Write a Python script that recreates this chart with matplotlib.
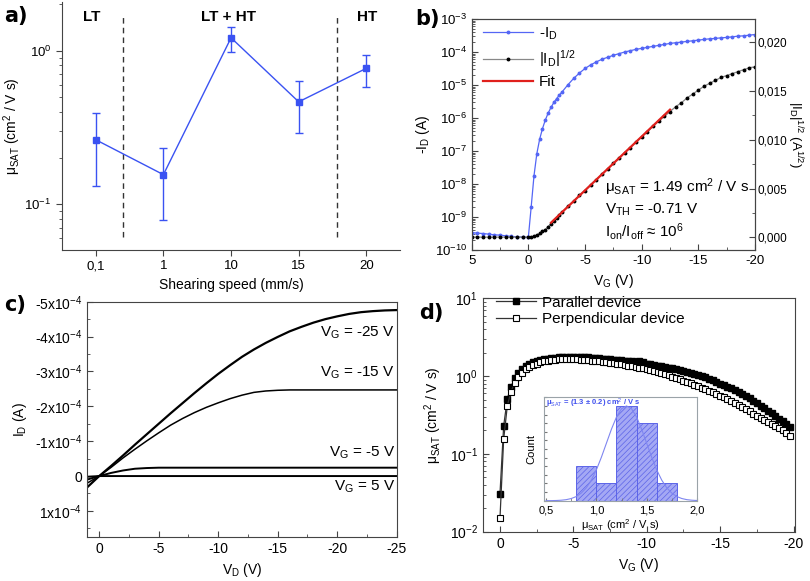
import numpy as np
import matplotlib
matplotlib.use('Agg')
import matplotlib.pyplot as plt
from matplotlib.ticker import MultipleLocator, FixedLocator, FuncFormatter, NullFormatter

plt.rcParams['font.family'] = ['Liberation Sans', 'DejaVu Sans']
plt.rcParams['mathtext.fontset'] = 'custom'
plt.rcParams['mathtext.rm'] = 'Liberation Sans'
plt.rcParams['mathtext.it'] = 'Liberation Sans:italic'
plt.rcParams['mathtext.bf'] = 'Liberation Sans:bold'
plt.rcParams['axes.unicode_minus'] = False
plt.rcParams['hatch.linewidth'] = 0.5

# ---- data a) mobility vs shearing speed
speed_labels = ['0,1', '1', '10', '15', '20']
mu_a = [0.263, 0.156, 1.21, 0.464, 0.766]
mu_a_hi = [0.39, 0.233, 1.42, 0.63, 0.94]
mu_a_lo = [0.132, 0.079, 0.985, 0.293, 0.58]
regions = ['LT', 'LT + HT', 'HT']
region_x = [-0.06, 1.96, 4.01]
boundary_x = [0.40, 3.56]

# ---- data b) transfer curve
vg_b = np.concatenate([np.arange(5, 0, -0.5), np.arange(0, -3, -0.25), np.arange(-3, -20.01, -0.5)])
id_log = [-9.47, -9.49, -9.50, -9.52, -9.54, -9.55, -9.57, -9.59, -9.60, -9.61,
          -9.62, -8.70, -7.75, -7.08, -6.64, -6.32, -6.06, -5.85, -5.68, -5.53, -5.41, -5.30,
          -5.20, -4.99, -4.80, -4.64, -4.50, -4.39, -4.30, -4.22, -4.16, -4.10, -4.05, -4.00,
          -3.96, -3.92, -3.89, -3.86, -3.83, -3.80, -3.77, -3.74, -3.72, -3.70, -3.68, -3.66,
          -3.64, -3.62, -3.60, -3.59, -3.57, -3.56, -3.54, -3.52, -3.51, -3.49, -3.47]
sqrt_id = [0.00002] * 10 + [0.00002, 0.00005, 0.00012, 0.00025, 0.0004, 0.0006, 0.0008, 0.0011,
                            0.0014, 0.0017, 0.0020, 0.0023,
                            0.0026, 0.0032, 0.0037, 0.0043, 0.0048, 0.0054, 0.0059, 0.0065, 0.0070,
                            0.0076, 0.0081, 0.0087, 0.0092, 0.0098, 0.0103, 0.0108, 0.0114, 0.0119,
                            0.0124, 0.0129, 0.0134, 0.0138, 0.0143, 0.0147, 0.0151, 0.0155, 0.0158,
                            0.0161, 0.0164, 0.0166, 0.0168, 0.0170, 0.0172, 0.0174, 0.0175]
fit_v = [-2.0, -12.5]
fit_y = [0.0015, 0.0131]

# ---- data c) output curves (units of 1e-4 A)
vd_c = np.arange(1, -25.5, -1)
id_m25 = [0.32, 0.0, -0.29, -0.59, -0.90, -1.20, -1.50, -1.80, -2.09, -2.38, -2.66, -2.93, -3.18,
          -3.42, -3.63, -3.82, -3.99, -4.15, -4.28, -4.40, -4.50, -4.58, -4.65, -4.70, -4.73, -4.75, -4.76]
id_m15 = [0.20, 0.0, -0.25, -0.52, -0.77, -1.01, -1.24, -1.46, -1.65, -1.82, -1.97, -2.10, -2.22,
          -2.32, -2.40, -2.44, -2.46, -2.47, -2.47, -2.47, -2.47, -2.47, -2.47, -2.47, -2.47, -2.47, -2.47]
id_m5 = [0.10, 0.0, -0.09, -0.16, -0.21, -0.23, -0.24, -0.24, -0.24, -0.24, -0.24, -0.24, -0.24,
         -0.24, -0.24, -0.24, -0.24, -0.24, -0.24, -0.24, -0.24, -0.24, -0.24, -0.24, -0.24, -0.24, -0.24]
id_p5 = [0.02, 0.0, 0.0, 0.0, 0.0, 0.0, 0.0, 0.0, 0.0, 0.0, 0.0, 0.0, 0.0,
         0.0, 0.0, 0.0, 0.0, 0.0, 0.0, 0.0, 0.0, 0.0, 0.0, 0.0, 0.0, 0.0, 0.0]
vg_labels = ['V$_\\mathrm{G}$ = -25 V', 'V$_\\mathrm{G}$ = -15 V', 'V$_\\mathrm{G}$ = -5 V', 'V$_\\mathrm{G}$ = 5 V']
vg_label_y = [-4.10, -2.96, -0.68, 0.32]

# ---- data d) mobility vs gate voltage (log10 values), 0.25 V steps from 0 V
mu_par_log = [-1.51, -0.64, -0.29, -0.135, -0.03, 0.04, 0.09, 0.13, 0.155, 0.175, 0.19, 0.205, 0.215,
              0.224, 0.231, 0.237, 0.241, 0.244, 0.246, 0.247, 0.247,
              0.246, 0.244, 0.242, 0.239, 0.236, 0.232, 0.228, 0.224, 0.220, 0.216, 0.212, 0.208,
              0.203, 0.198, 0.193, 0.188, 0.186, 0.196, 0.178, 0.160,
              0.152, 0.143, 0.134, 0.125, 0.117, 0.109, 0.100, 0.090, 0.080, 0.069, 0.057, 0.045,
              0.031, 0.016, 0.000, -0.016, -0.036, -0.056, -0.076, -0.096,
              -0.116, -0.136, -0.157, -0.180, -0.205, -0.230, -0.257, -0.285, -0.316, -0.348,
              -0.381, -0.414, -0.447, -0.480, -0.513, -0.546, -0.580, -0.614, -0.650]
mu_perp_log = [-1.82, -0.81, -0.38, -0.20, -0.085, -0.01, 0.045, 0.085, 0.115, 0.14, 0.16, 0.177, 0.19,
               0.20, 0.207, 0.213, 0.217, 0.22, 0.221, 0.221, 0.22,
               0.217, 0.213, 0.209, 0.205, 0.200, 0.195, 0.190, 0.185, 0.179, 0.173, 0.167, 0.160,
               0.152, 0.143, 0.134, 0.125, 0.116, 0.107, 0.098, 0.088,
               0.077, 0.065, 0.053, 0.040, 0.025, 0.009, -0.008, -0.025, -0.042, -0.059, -0.077, -0.095,
               -0.113, -0.132, -0.151, -0.170, -0.190, -0.210, -0.230, -0.250,
               -0.275, -0.300, -0.325, -0.350, -0.376, -0.402, -0.428, -0.455, -0.481, -0.507,
               -0.533, -0.560, -0.586, -0.612, -0.638, -0.665, -0.695, -0.728, -0.765]
vg_d = -0.25 * np.arange(len(mu_par_log))

# inset histogram
hist_edges = [0.8, 1.0, 1.2, 1.4, 1.6, 1.8]
hist_counts = [4, 2, 11, 9, 2]
gauss_x = [0.5, 0.55, 0.6, 0.65, 0.7, 0.75, 0.8, 0.85, 0.9, 0.95, 1.0, 1.05, 1.1, 1.15, 1.2, 1.25, 1.3,
           1.35, 1.4, 1.45, 1.5, 1.55, 1.6, 1.65, 1.7, 1.75, 1.8, 1.85, 1.9, 1.95, 2.0]
gauss_y = [0.004, 0.01, 0.024, 0.056, 0.12, 0.25, 0.48, 0.88, 1.49, 2.38, 3.57, 5.04, 6.67, 8.30, 9.71,
           10.66, 11.0, 10.66, 9.71, 8.30, 6.67, 5.04, 3.57, 2.38, 1.49, 0.88, 0.48, 0.25, 0.12, 0.056, 0.024]

spine_c = '#444444'
blue = '#3a52f2'


def style(ax, direction='in', size=10):
    for s in ax.spines.values():
        s.set_color(spine_c)
    ax.tick_params(which='both', direction=direction, colors=spine_c, labelcolor='black', labelsize=size)
    ax.tick_params(which='major', length=4)
    ax.tick_params(which='minor', length=2)


fig = plt.figure(figsize=(8.1, 5.81), dpi=100)

# ================= a)
axa = fig.add_axes([0.0765, 0.5697, 0.4175, 0.427])
xa = np.arange(len(mu_a))
err = [np.array(mu_a) - np.array(mu_a_lo), np.array(mu_a_hi) - np.array(mu_a)]
axa.errorbar(xa, mu_a, yerr=err, color=blue, marker='s', ms=5, lw=1.0, capsize=3, elinewidth=1.0)
axa.set_yscale('log')
axa.set_ylim(0.0505, 2.07)
axa.set_xlim(-0.5, 4.5)
axa.set_xticks(xa)
axa.set_xticklabels(speed_labels)
axa.spines['top'].set_visible(False)
axa.spines['right'].set_visible(False)
style(axa, 'out', 9.5)
axa.yaxis.set_minor_formatter(NullFormatter())
for bx in boundary_x:
    axa.vlines(bx, 0.061, 1.66, colors='#333333', linestyles=(0, (4, 3)), lw=1.0)
for rl, rx in zip(regions, region_x):
    axa.text(rx, 1.66, rl, ha='center', va='center', fontsize=11, fontweight='bold')
axa.set_ylabel('μ$_\\mathrm{SAT}$ (cm$^2$ / V s)', fontsize=10, labelpad=1)
axa.set_xlabel('Shearing speed (mm/s)', fontsize=10)

# ================= b)
axb = fig.add_axes([0.5823, 0.5697, 0.3498, 0.3976])
axb2 = axb.twinx()
l1, = axb.plot(vg_b, 10.0 ** np.array(id_log), color='#5466f5', marker='o', ms=1.8, lw=0.9, label='-I$_\\mathrm{D}$')
l2, = axb2.plot(vg_b, sqrt_id, color='#888888', marker='o', ms=1.8, mfc='black', mec='black', lw=0.9,
                label='|I$_\\mathrm{D}$|$^{1/2}$')
l3, = axb2.plot(fit_v, fit_y, color='#e0201c', lw=1.6, label='Fit')
axb.set_yscale('log')
axb.set_ylim(1e-10, 1e-3)
axb.set_xlim(5, -20)
axb2.set_ylim(-0.0013, 0.0224)
axb.set_xticks([5, 0, -5, -10, -15, -20])
axb.xaxis.set_minor_locator(MultipleLocator(2.5))
axb.yaxis.set_minor_formatter(NullFormatter())
axb2.yaxis.set_major_locator(MultipleLocator(0.005))
axb2.yaxis.set_minor_locator(MultipleLocator(0.0025))
axb2.yaxis.set_major_formatter(FuncFormatter(lambda v, p: f'{v:.3f}'.replace('.', ',')))
style(axb, size=9.5)
style(axb2, size=8.5)
axb2.tick_params(axis='y', pad=2)
axb.set_ylabel('-I$_\\mathrm{D}$ (A)', fontsize=10, labelpad=2)
axb.set_xlabel('V$_\\mathrm{G}$ (V)', fontsize=10)
axb2.set_ylabel('|I$_\\mathrm{D}$|$^{1/2}$ (A$^{1/2}$)', fontsize=9.5, rotation=270, labelpad=12)
axb.legend(handles=[l1, l2, l3], loc='upper left', bbox_to_anchor=(-0.01, 1.03), frameon=False,
           fontsize=11, handlelength=3.3, labelspacing=0.4, handletextpad=0.4)
axb.text(0.47, 0.27, 'μ$_\\mathrm{SAT}$ = 1.49 cm$^2$ / V s', transform=axb.transAxes, fontsize=11, va='center')
axb.text(0.47, 0.175, 'V$_\\mathrm{TH}$ = -0.71 V', transform=axb.transAxes, fontsize=11, va='center')
axb.text(0.47, 0.08, 'I$_\\mathrm{on}$/I$_\\mathrm{off}$ ≈ 10$^6$', transform=axb.transAxes, fontsize=11, va='center')

# ================= c)
axc = fig.add_axes([0.1078, 0.0762, 0.382, 0.4045])
for curve, lw in zip([id_m25, id_m15, id_m5, id_p5], [1.6, 1.1, 1.4, 1.4]):
    axc.plot(vd_c, np.array(curve) * 1e-4, color='black', lw=lw)
axc.set_xlim(1, -25)
axc.set_ylim(1.74e-4, -5.0e-4)
yt_c = [-5e-4, -4e-4, -3e-4, -2e-4, -1e-4, 0, 1e-4]
axc.yaxis.set_major_locator(FixedLocator(yt_c))
axc.set_yticklabels(['-5x10$^{-4}$', '-4x10$^{-4}$', '-3x10$^{-4}$', '-2x10$^{-4}$', '-1x10$^{-4}$', '0',
                     '1x10$^{-4}$'])
axc.yaxis.set_minor_locator(MultipleLocator(0.5e-4))
axc.set_xticks([0, -5, -10, -15, -20, -25])
axc.xaxis.set_minor_locator(MultipleLocator(2.5))
style(axc)
for lab, ly in zip(vg_labels, vg_label_y):
    axc.text(0.995, ly * 1e-4, lab, transform=axc.get_yaxis_transform(), ha='right', va='center', fontsize=11)
axc.set_ylabel('I$_\\mathrm{D}$ (A)', fontsize=10)
axc.set_xlabel('V$_\\mathrm{D}$ (V)', fontsize=10)

# ================= d)
axd = fig.add_axes([0.5959, 0.0849, 0.3856, 0.4017])
axd.plot(vg_d, 10.0 ** np.array(mu_par_log), color='#333333', lw=0.9, marker='s', ms=4, mfc='black',
         mec='black', label='Parallel device')
axd.plot(vg_d, 10.0 ** np.array(mu_perp_log), color='#333333', lw=0.9, marker='s', ms=4, mfc='white',
         mec='black', mew=0.8, label='Perpendicular device')
axd.set_yscale('log')
axd.set_ylim(1e-2, 1e1)
axd.set_xlim(1.18, -20.1)
axd.set_xticks([0, -5, -10, -15, -20])
axd.xaxis.set_minor_locator(MultipleLocator(2.5))
axd.yaxis.set_minor_formatter(NullFormatter())
style(axd)
axd.set_ylabel('μ$_\\mathrm{SAT}$ (cm$^2$ / V s)', fontsize=10)
axd.set_xlabel('V$_\\mathrm{G}$ (V)', fontsize=10)
axd.legend(loc='upper left', bbox_to_anchor=(0.0, 1.07), frameon=False, fontsize=11, handlelength=2.6,
           labelspacing=0.15, handletextpad=0.4)

# inset
axi = fig.add_axes([0.6716, 0.1382, 0.1889, 0.178])
axi.bar(hist_edges[:-1], hist_counts, width=0.2, align='edge', facecolor='#a4a8f4', edgecolor='#5c64e8',
        hatch='//////', lw=0.7)
axi.plot(gauss_x, gauss_y, color='#7f86f0', lw=0.8)
axi.set_xlim(0.48, 2.0)
axi.set_ylim(0, 12)
axi.set_xticks([0.5, 1.0, 1.5, 2.0])
axi.xaxis.set_major_formatter(FuncFormatter(lambda v, p: f'{v:.1f}'.replace('.', ',')))
axi.xaxis.set_minor_locator(MultipleLocator(0.25))
axi.set_yticks(range(0, 13))
axi.set_yticklabels([])
for s in axi.spines.values():
    s.set_color('#9aa3a8')
axi.tick_params(which='both', direction='in', colors='#777777', labelcolor='black', labelsize=8, length=2)
axi.set_xlabel('μ$_\\mathrm{SAT}$ (cm$^2$ / V s)', fontsize=8, labelpad=1)
axi.set_ylabel('Count', fontsize=8, labelpad=2)
axi.text(0.01, 0.945, 'μ$_\\mathrm{SAT}$ = (1.3 ± 0.2) cm$^2$ / V s', transform=axi.transAxes, fontsize=5.5,
         color='#4050ee', fontweight='bold', va='center')

# panel letters
for lab, px, py in [('a)', 0.005, 0.972), ('b)', 0.513, 0.968), ('c)', 0.005, 0.475), ('d)', 0.518, 0.462)]:
    fig.text(px, py, lab, fontsize=15, fontweight='bold', family='DejaVu Sans', va='center')

fig.savefig('out.png', dpi=100)
